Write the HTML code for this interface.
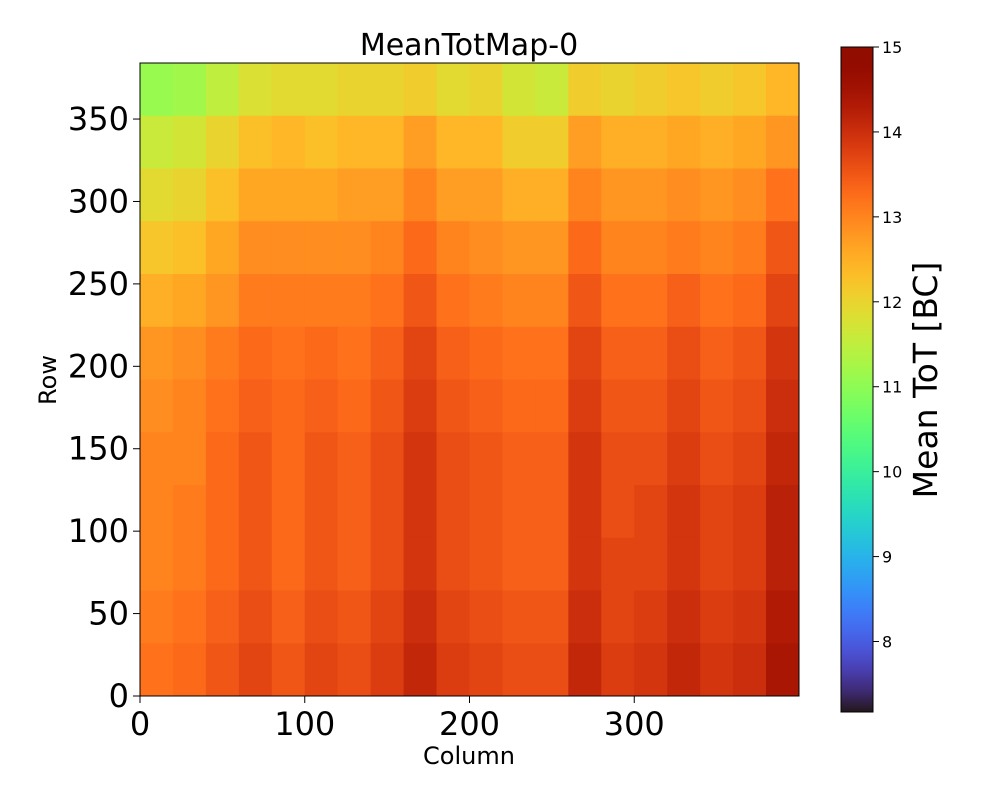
<!DOCTYPE html>
<html><head><meta charset="utf-8"><style>
body{margin:0;background:#fff;font-family:"DejaVu Sans",sans-serif}
</style></head><body>
<svg id="chart" width="1000" height="800" xmlns="http://www.w3.org/2000/svg" font-family="DejaVu Sans, sans-serif">
<defs><linearGradient id="cbgrad" x1="0" y1="1" x2="0" y2="0"></linearGradient></defs>
<g id="cells"></g>
<rect x="140" y="63" width="659" height="633" fill="none" stroke="#000" stroke-width="1"/>
<g id="axes"></g>
<text x="469" y="55" text-anchor="middle" font-size="30">MeanTotMap-0</text>
<text x="469" y="764" text-anchor="middle" font-size="24">Column</text>
<text transform="translate(56,380) rotate(-90)" text-anchor="middle" font-size="24">Row</text>
<rect x="841" y="47" width="32" height="665" fill="url(#cbgrad)" stroke="#000" stroke-width="1"/>
<g id="cbaxis"></g>
<text transform="translate(937,380) rotate(-90)" text-anchor="middle" font-size="33">Mean ToT [BC]</text>
</svg>
<script>
// grid rows from top (row 352-384) to bottom (row 0-32); 20 columns of width 20
const gridValues = [
[11.1,11.2,11.5,11.8,11.9,11.9,12.0,12.0,12.1,11.9,12.0,11.7,11.6,12.1,12.0,12.1,12.2,12.1,12.2,12.4],
[11.6,11.7,12.0,12.3,12.4,12.3,12.4,12.4,12.7,12.4,12.4,12.1,12.1,12.7,12.5,12.5,12.6,12.5,12.6,12.8],
[11.9,12.0,12.3,12.6,12.6,12.6,12.7,12.7,13.0,12.7,12.7,12.5,12.5,13.0,12.8,12.8,12.9,12.8,12.9,13.2],
[12.2,12.3,12.6,12.9,12.9,12.9,12.9,13.0,13.3,13.0,12.9,12.8,12.8,13.3,13.0,13.0,13.1,13.0,13.1,13.5],
[12.5,12.6,12.8,13.1,13.1,13.1,13.1,13.2,13.5,13.2,13.1,13.0,13.0,13.5,13.2,13.2,13.4,13.2,13.3,13.7],
[12.8,12.9,13.1,13.3,13.2,13.3,13.2,13.4,13.7,13.4,13.3,13.2,13.2,13.7,13.4,13.4,13.6,13.4,13.5,13.9],
[12.9,13.0,13.2,13.4,13.3,13.4,13.3,13.5,13.8,13.5,13.4,13.3,13.3,13.8,13.5,13.5,13.7,13.5,13.6,14.0],
[13.0,13.0,13.3,13.5,13.3,13.5,13.4,13.6,13.9,13.6,13.5,13.4,13.4,13.9,13.6,13.6,13.8,13.6,13.7,14.1],
[13.0,13.1,13.3,13.5,13.3,13.5,13.4,13.6,13.9,13.6,13.5,13.4,13.4,13.9,13.6,13.7,13.9,13.7,13.8,14.2],
[13.0,13.1,13.3,13.5,13.3,13.5,13.4,13.6,13.9,13.6,13.5,13.4,13.4,13.9,13.7,13.7,13.9,13.7,13.8,14.2],
[13.1,13.2,13.4,13.6,13.4,13.6,13.5,13.7,14.0,13.7,13.6,13.5,13.5,14.0,13.7,13.8,14.0,13.8,13.9,14.3],
[13.2,13.3,13.5,13.7,13.5,13.7,13.6,13.8,14.1,13.8,13.7,13.6,13.6,14.1,13.8,13.9,14.1,13.9,14.0,14.4]
];
const xTicks = [0,100,200,300];
const yTicks = [0,50,100,150,200,250,300,350];
const cbTicks = [8,9,10,11,12,13,14,15];
const vmin = 7.17, vmax = 15;
const nCols = 400, nRows = 384;
const NS = "http://www.w3.org/2000/svg";
const X = c => 140 + c * (659 / nCols);
const Y = r => 696 - r * (633 / nRows);
function turbo(t){t=Math.max(0,Math.min(1,t));
const r=0.13572138+t*(4.61539260+t*(-42.66032258+t*(132.13108234+t*(-152.94239396+t*59.28637943))));
const g=0.09140261+t*(2.19418839+t*(4.84296658+t*(-14.18503333+t*(4.27729857+t*2.82956604))));
const b=0.10667330+t*(12.64194608+t*(-60.58204836+t*(110.36276771+t*(-89.90310912+t*27.34824973))));
const f=v=>Math.round(Math.max(0,Math.min(1,v))*255);return `rgb(${f(r)},${f(g)},${f(b)})`;}
const cells = document.getElementById('cells');
const nr = gridValues.length, nc = gridValues[0].length;
const cw = nCols / nc, rh = nRows / nr;
gridValues.forEach((row, i) => row.forEach((v, j) => {
  const el = document.createElementNS(NS, 'rect');
  const r0 = nRows - (i + 1) * rh;
  el.setAttribute('x', X(j * cw)); el.setAttribute('y', Y(r0 + rh));
  el.setAttribute('width', X((j + 1) * cw) - X(j * cw) + 0.5);
  el.setAttribute('height', Y(r0) - Y(r0 + rh) + 0.5);
  el.setAttribute('fill', turbo((v - vmin) / (vmax - vmin)));
  
  
  cells.appendChild(el);
}));
const axes = document.getElementById('axes');
function add(parent, tag, attrs, text){const e=document.createElementNS(NS,tag);for(const k in attrs)e.setAttribute(k,attrs[k]);if(text!==undefined)e.textContent=text;parent.appendChild(e);return e;}
xTicks.forEach(t => {
  add(axes,'line',{x1:X(t),x2:X(t),y1:696,y2:703,stroke:'#000'});
  const lb = add(axes,'text',{x:X(t),y:735,'text-anchor':'middle','font-size':32},t);
  
  
});
yTicks.forEach(t => {
  add(axes,'line',{x1:133,x2:140,y1:Y(t),y2:Y(t),stroke:'#000'});
  const lb = add(axes,'text',{x:129,y:Y(t)+11,'text-anchor':'end','font-size':32},t);
  
  
});
const cbY = v => 712 - (v - vmin) / (vmax - vmin) * 665;
const cba = document.getElementById('cbaxis');
cbTicks.forEach(t => {
  add(cba,'line',{x1:873,x2:879,y1:cbY(t),y2:cbY(t),stroke:'#000'});
  const lb = add(cba,'text',{x:882,y:cbY(t)+6,'font-size':16},t);
  
  
});
const grad = document.getElementById('cbgrad');
for (let k = 0; k <= 32; k++) add(grad,'stop',{offset:(k/32),'stop-color':turbo(k/32)});
</script>
</body></html>
